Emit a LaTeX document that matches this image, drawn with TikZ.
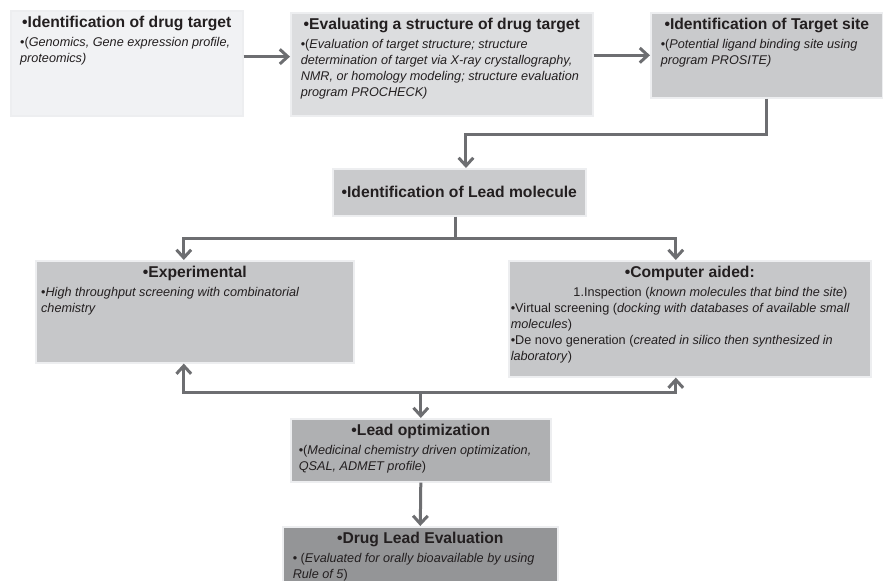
\documentclass[tikz,border=0pt]{standalone}
\usepackage{fontspec}
\setmainfont{Liberation Sans}
\usetikzlibrary{arrows.meta,calc}
\definecolor{ink}{HTML}{231F20}
\definecolor{linkgray}{HTML}{6D6E71}
\definecolor{edge}{HTML}{EDEEF0}
\definecolor{palegray}{HTML}{F1F2F4}
\definecolor{lightgray}{HTML}{DCDDDF}
\definecolor{midgray}{HTML}{C9CACC}
\definecolor{stepgray}{HTML}{C6C7C9}
\definecolor{darkgray}{HTML}{AFB0B2}
\definecolor{deepgray}{HTML}{949597}

\newcommand{\headfont}{\fontsize{11.75}{14}\selectfont\bfseries}
\newcommand{\bodyfont}{\fontsize{9.5}{12}\selectfont}
% text block of fixed size: centred heading, then ragged body lines
\newcommand{\stagetext}[4]{\parbox[t][#2][t]{#1}{{\centering\headfont #3\par}\vspace{2pt}\raggedright\bodyfont #4}}

\begin{document}
\begin{tikzpicture}[
  x=0.75pt, y=-0.75pt,
  stage/.style={draw=edge, line width=1.2pt, anchor=north west, inner ysep=4pt, text=ink},
  link/.style={draw=linkgray, line width=2.25pt},
  arr/.style={link, -{Straight Barb[length=6pt,width=11pt]}}
]
\clip (0,0) rectangle (883,581);

% top row
\node[stage, fill=palegray, inner xsep=7pt] (target) at (10,10)
  {\stagetext{160pt}{70.75pt}{•Identification of drug target}
   {•(\textit{Genomics, Gene expression profile,\\ proteomics)}}};
\node[stage, fill=lightgray, inner xsep=7.5pt] (structure) at (290,12)
  {\stagetext{211.5pt}{69.25pt}{•Evaluating a structure of drug target}
   {•(\textit{Evaluation of target structure; structure\\ determination of target via X-ray crystallography,\\ NMR, or homology modeling; structure evaluation\\ program PROCHECK)}}};
\node[stage, fill=midgray, inner xsep=7.5pt] (site) at (650,12)
  {\stagetext{159pt}{55.75pt}{•Identification of Target site}
   {•(\textit{Potential ligand binding site using\\ program PROSITE)}}};

% lead search
\node[stage, fill=midgray, minimum width=189.75pt, minimum height=35.25pt, font=\headfont] (lead) at (332,168)
  {•Identification of Lead molecule};
\node[stage, fill=stepgray, inner xsep=4pt] (exp) at (35,260)
  {\stagetext{230.5pt}{68.5pt}{•Experimental}
   {•\textit{High throughput screening with combinatorial\\ chemistry}}};
\node[stage, fill=stepgray, inner xsep=1.5pt] (comp) at (508,260)
  {\stagetext{268.5pt}{79pt}{•Computer aided:}
   {\hspace*{47pt}1.Inspection (\textit{known molecules that bind the site})\\
    •Virtual screening (\textit{docking with databases of available small\\ molecules})\\
    •De novo generation (\textit{created in silico then synthesized in\\ laboratory})}};

% bottom of the pipeline
\node[stage, fill=darkgray, inner xsep=6pt] (opt) at (290,418)
  {\stagetext{183pt}{39.25pt}{•Lead optimization}
   {•(\textit{Medicinal chemistry driven optimization,\\ QSAL, ADMET profile})}};
\node[stage, fill=deepgray, inner xsep=7.5pt] (eval) at (282,526)
  {\stagetext{191.25pt}{44pt}{•Drug Lead Evaluation}
   {• (\textit{Evaluated for orally bioavailable by using\\ Rule of 5})}};

% connectors
\draw[arr] ([yshift=5pt]target.east) -- ([yshift=5pt]target.east -| structure.west);
\draw[arr] (structure.east |- site.west) -- (site.west);
\draw[arr] (site.south) -- ++(0,36) -| ([xshift=5pt]lead.north);

\coordinate (split) at ($(lead.south)+(-4,22)$);
\draw[link] (split |- lead.south) -- (split);
\draw[arr] (split) -| ([xshift=-8.25pt]exp.north);
\draw[arr] (split) -| ([xshift=-10.5pt]comp.north);

\coordinate (join) at ($(opt.north)+(0,-25)$);
\draw[arr] (join) -- (opt.north);
\draw[arr] (join) -| ([xshift=-8.25pt]exp.south);
\draw[arr] (join) -| ([xshift=-10.5pt]comp.south);

\draw[arr] (opt.south) -- (eval.north);
\end{tikzpicture}
\end{document}
